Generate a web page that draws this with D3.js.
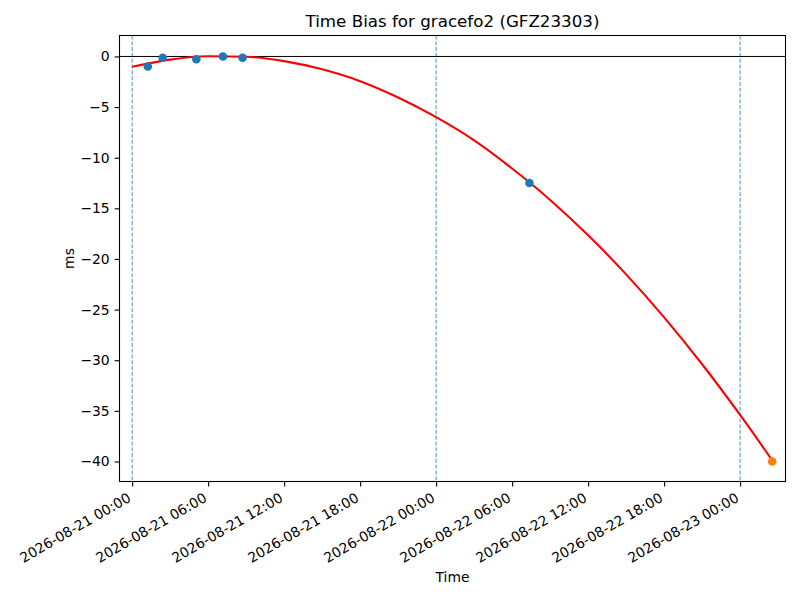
<!DOCTYPE html>
<html>

<head>
    <script src="https://cdn.jsdelivr.net/npm/d3@7/dist/d3.min.js"></script>
    <meta charset="utf-8">
    <title>Time Bias</title>
    <style>
    body { margin: 0; background: white; }
    text { font-family: "DejaVu Sans", sans-serif; fill: black; }
    </style>
</head>

<body>
    <script>
    // observed time bias points (blue)
    var obsTimes = ['2026-08-21 01:14', '2026-08-21 02:25', '2026-08-21 05:04',
        '2026-08-21 07:10', '2026-08-21 08:43', '2026-08-22 07:22'];
    var obsValues = [-0.99, -0.13, -0.27, 0.0, -0.13, -12.5];

    // predicted point (orange)
    var predTimes = ['2026-08-23 02:32'];
    var predValues = [-40.0];

    var fitTimes = ['2026-08-21 00:00', '2026-08-21 03:00', '2026-08-21 06:00', '2026-08-21 09:00',
        '2026-08-21 12:00', '2026-08-21 15:00', '2026-08-21 18:00', '2026-08-21 21:00',
        '2026-08-22 00:00', '2026-08-22 03:00', '2026-08-22 06:00', '2026-08-22 09:00',
        '2026-08-22 12:00', '2026-08-22 15:00', '2026-08-22 18:00', '2026-08-22 21:00',
        '2026-08-23 00:00', '2026-08-23 02:32'];
    var fitValues = [-1.02, -0.31, 0.02, -0.03, -0.46, -1.27, -2.44, -4.05, -6.0, -8.29,
        -11.07, -14.17, -17.66, -21.52, -25.77, -30.4, -35.41, -39.88];

    // day boundaries (dashed)
    var dayLines = ['2026-08-21 00:00', '2026-08-22 00:00', '2026-08-23 00:00'];

    var yTicks = [0, -5, -10, -15, -20, -25, -30, -35, -40];

    var parse = d3.utcParse('%Y-%m-%d %H:%M');

    var W = 800, H = 600;
    var m = { left: 119.5, right: 785.5, top: 35.5, bottom: 481.5 };

    var svg = d3.select('body').append('svg')
        .attr('width', W)
        .attr('height', H);

    var x = d3.scaleUtc()
        .domain([parse('2026-08-20 23:00'), parse('2026-08-23 03:35')])
        .range([m.left, m.right]);
    var y = d3.scaleLinear()
        .domain([-41.98, 2.07])
        .range([m.bottom, m.top]);

    // clip the plot area
    svg.append('clipPath').attr('id', 'clip')
        .append('rect')
        .attr('x', m.left).attr('y', m.top)
        .attr('width', m.right - m.left).attr('height', m.bottom - m.top);

    var plot = svg.append('g').attr('clip-path', 'url(#clip)');

    plot.selectAll('line.day')
        .data(dayLines)
        .enter()
        .append('line')
        .attr('class', 'day')
        .attr('x1', function(d) { return x(parse(d)); })
        .attr('x2', function(d) { return x(parse(d)); })
        .attr('y1', m.top).attr('y2', m.bottom)
        .attr('stroke', '#1f77b4')
        .attr('stroke-width', 0.8)
        .attr('stroke-dasharray', '4,1.8');

    plot.append('line')
        .attr('x1', m.left).attr('x2', m.right)
        .attr('y1', y(0)).attr('y2', y(0))
        .attr('stroke', 'black')
        .attr('stroke-width', 1);

    var line = d3.line()
        .x(function(d, i) { return x(parse(fitTimes[i])); })
        .y(function(d) { return y(d); })
        .curve(d3.curveMonotoneX);

    plot.append('path')
        .datum(fitValues)
        .attr('d', line)
        .attr('fill', 'none')
        .attr('stroke', 'red')
        .attr('stroke-width', 2.1);

    plot.selectAll('circle.obs')
        .data(obsValues)
        .enter()
        .append('circle')
        .attr('class', 'obs')
        .attr('cx', function(d, i) { return x(parse(obsTimes[i])); })
        .attr('cy', function(d) { return y(d); })
        .attr('r', 4.3)
        .attr('fill', '#1f77b4');

    plot.selectAll('circle.pred')
        .data(predValues)
        .enter()
        .append('circle')
        .attr('class', 'pred')
        .attr('cx', function(d, i) { return x(parse(predTimes[i])); })
        .attr('cy', function(d) { return y(d); })
        .attr('r', 4.3)
        .attr('fill', '#ff7f0e');

    // axes
    var xAxis = svg.append('g')
        .attr('transform', 'translate(0,' + m.bottom + ')')
        .call(d3.axisBottom(x)
            .ticks(d3.utcHour.every(6))
            .tickFormat(d3.utcFormat('%Y-%m-%d %H:%M'))
            .tickSize(4.9)
            .tickSizeOuter(0));
    xAxis.select('.domain').remove();
    xAxis.selectAll('.tick line').attr('stroke-width', 1.1);
    xAxis.selectAll('.tick text')
        .attr('font-size', '13.9px')
        .attr('fill', 'black')
        .attr('text-anchor', 'end')
        .attr('y', 0)
        .attr('dy', '0.75em')
        .attr('transform', 'translate(-6,10) rotate(-30)');

    var yAxis = svg.append('g')
        .attr('transform', 'translate(' + m.left + ',0)')
        .call(d3.axisLeft(y)
            .tickValues(yTicks)
            .tickSize(4.9)
            .tickPadding(4.9)
            .tickSizeOuter(0));
    yAxis.select('.domain').remove();
    yAxis.selectAll('.tick line').attr('stroke-width', 1.1);
    yAxis.selectAll('.tick text')
        .attr('font-size', '13.9px')
        .attr('fill', 'black');

    // frame
    svg.append('rect')
        .attr('x', m.left).attr('y', m.top)
        .attr('width', m.right - m.left).attr('height', m.bottom - m.top)
        .attr('fill', 'none')
        .attr('stroke', 'black')
        .attr('stroke-width', 1.1);

    svg.append('text')
        .attr('x', (m.left + m.right) / 2)
        .attr('y', 27)
        .attr('text-anchor', 'middle')
        .attr('font-size', '16.7px')
        .text('Time Bias for gracefo2 (GFZ23303)');

    svg.append('text')
        .attr('x', (m.left + m.right) / 2)
        .attr('y', 582)
        .attr('text-anchor', 'middle')
        .attr('font-size', '13.9px')
        .text('Time');

    svg.append('text')
        .attr('transform', 'translate(74,' + ((m.top + m.bottom) / 2) + ') rotate(-90)')
        .attr('text-anchor', 'middle')
        .attr('font-size', '13.9px')
        .text('ms');
    </script>
</body>

</html>
